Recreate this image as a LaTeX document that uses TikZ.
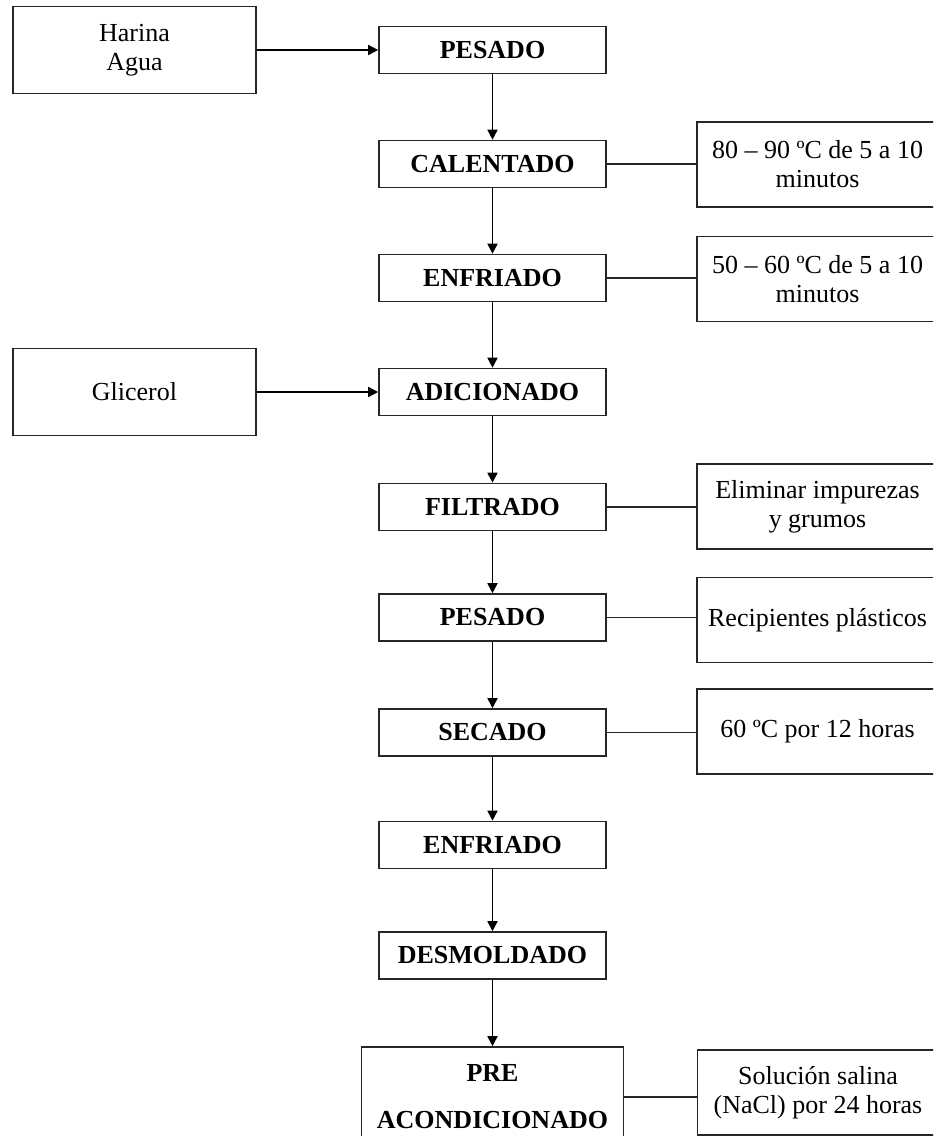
\documentclass[tikz,border=0pt]{standalone}
\usepackage{fontspec}
\setmainfont{Liberation Serif}
\usetikzlibrary{arrows.meta}

\begin{document}
\begin{tikzpicture}[x=0.5pt, y=-0.5pt,
  every node/.style={font=\fontsize{13}{14.5}\selectfont, align=center, inner sep=0pt},
  paso/.style={rectangle, draw=black!85, line width=0.8pt, minimum height=23.5pt, minimum width=113.5pt, font=\fontsize{13}{14.5}\selectfont\bfseries},
  nota/.style={rectangle, draw=black!85, line width=0.8pt, minimum height=42.5pt, minimum width=120.5pt},
  entrada/.style={rectangle, draw=black!85, line width=0.8pt, minimum height=43.5pt, minimum width=121.5pt},
  flecha/.style={-{Triangle[length=5pt,width=5pt]}, line width=0.8pt},
  linea/.style={line width=0.8pt, draw=black!85}]
  \useasboundingbox (0,0) rectangle (933,1136);
  \fill[white] (0,0) rectangle (933,1136);
  \clip (0,0) rectangle (933,1136);
  % Nodes
  \node (h) [entrada] at (134.5, 50) {Harina\\Agua};
  \node (g) [entrada] at (134.5, 392) {Glicerol};
  \node (p-1) [paso] at (492.5, 50) {PESADO};
  \node (p-2) [paso] at (492.5, 164) {CALENTADO};
  \node (p-3) [paso] at (492.5, 278) {ENFRIADO};
  \node (p-4) [paso] at (492.5, 392) {ADICIONADO};
  \node (p-5) [paso] at (492.5, 507) {FILTRADO};
  \node (p-6) [paso] at (492.5, 617.5) {PESADO};
  \node (p-7) [paso] at (492.5, 732.5) {SECADO};
  \node (p-8) [paso] at (492.5, 845) {ENFRIADO};
  \node (p-9) [paso] at (492.5, 955.5) {DESMOLDADO};
  \node (p-10) [paso, minimum width=131pt, minimum height=50pt] at (492.5, 1097) {PRE\\[9pt]ACONDICIONADO};
  \node (n-1) [nota] at (817.5, 164.5) {80 – 90 ºC de 5 a 10\\minutos};
  \node (n-2) [nota] at (817.5, 279) {50 – 60 ºC de 5 a 10\\minutos};
  \node (n-3) [nota] at (817.5, 506.5) {Eliminar impurezas\\y grumos};
  \node (n-4) [nota] at (817.5, 620) {Recipientes plásticos};
  \node (n-5) [nota] at (817.5, 731.5) {60 ºC por 12 horas};
  \node (n-6) [nota] at (818, 1092.5) {Solución salina\\(NaCl) por 24 horas};
  % Arrow
  \draw[flecha] (h) -- (p-1);
  \draw[flecha] (g) -- (p-4);
  \draw[flecha] (p-1) -- (p-2);
  \draw[flecha] (p-2) -- (p-3);
  \draw[flecha] (p-3) -- (p-4);
  \draw[flecha] (p-4) -- (p-5);
  \draw[flecha] (p-5) -- (p-6);
  \draw[flecha] (p-6) -- (p-7);
  \draw[flecha] (p-7) -- (p-8);
  \draw[flecha] (p-8) -- (p-9);
  \draw[flecha] (p-9) -- (p-10);
  % Lines
  \draw[linea] (p-2.east) -- (p-2.east -| n-1.west);
  \draw[linea] (p-3.east) -- (p-3.east -| n-2.west);
  \draw[linea] (p-5.east) -- (p-5.east -| n-3.west);
  \draw[linea] (p-6.east) -- (p-6.east -| n-4.west);
  \draw[linea] (p-7.east) -- (p-7.east -| n-5.west);
  \draw[linea] (p-10.east) -- (p-10.east -| n-6.west);
\end{tikzpicture}
\end{document}
